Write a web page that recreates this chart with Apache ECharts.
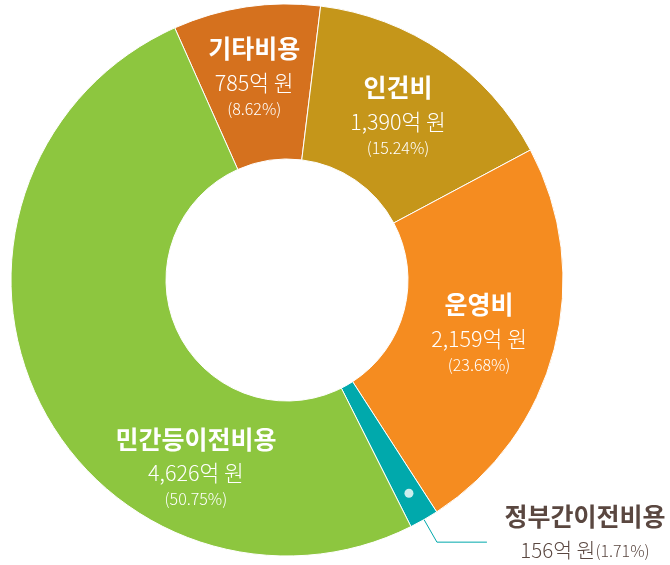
<!DOCTYPE html>
<html><head><meta charset="utf-8">
<script src="https://cdn.jsdelivr.net/npm/echarts@6/dist/echarts.min.js"></script>
<style>html,body{margin:0;padding:0;background:#fff}#c{width:670px;height:565px}</style>
</head><body><div id="c"></div>
<script>
const categories = ['기타비용', '인건비', '운영비', '정부간이전비용', '민간등이전비용'];
const values = [785, 1390, 2159, 156, 4626];
const percents = ['8.62%', '15.24%', '23.68%', '1.71%', '50.75%'];
const colors = ['#D5711E', '#C5961A', '#F58C20', '#00A9AC', '#8DC63F'];
const unit = '억 원';

const total = values.reduce((a, b) => a + b, 0);
const fmt = v => v.toLocaleString('en-US');
const FONT = '"Noto Sans CJK KR", "Noto Sans", sans-serif';
const CENTER = [287, 280];
const START = 114;
const SMALL = 3; // index of the outside-labelled slice

const mainData = categories.map((n, i) => ({
  name: n, value: values[i],
  itemStyle: { color: colors[i] },
  label: { show: i !== SMALL }
}));
const ghostData = categories.map((n, i) => ({
  name: n, value: values[i],
  label: { show: i === SMALL },
  labelLine: { show: i === SMALL }
}));
const dotAngle = values.slice(0, SMALL).reduce((a, b) => a + b, 0) + values[SMALL] / 2;

const chart = echarts.init(document.getElementById('c'), null, { renderer: 'canvas' });
chart.setOption({
  animation: false,
  backgroundColor: '#fff',
  polar: { center: CENTER, radius: 276 },
  angleAxis: { type: 'value', min: 0, max: total, startAngle: START, clockwise: true, show: false },
  radiusAxis: { type: 'value', min: 0, max: 1, show: false },
  series: [
    {
      type: 'pie',
      center: CENTER,
      radius: [121, 276],
      startAngle: START,
      clockwise: true,
      avoidLabelOverlap: false,
      silent: true,
      itemStyle: { borderColor: '#fff', borderWidth: 1 },
      label: {
        position: 'inside',
        color: '#fff',
        fontFamily: FONT,
        formatter: p => `{t|${p.name}}\n{v|${fmt(p.value)}${unit}}\n{p|(${percents[p.dataIndex]})}`,
        rich: {
          t: { fontSize: 25, fontWeight: 'bold', color: '#fff', lineHeight: 40, fontFamily: FONT, align: 'center' },
          v: { fontSize: 21.5, fontWeight: 300, color: '#fff', lineHeight: 28, fontFamily: FONT, align: 'center' },
          p: { fontSize: 16, fontWeight: 300, color: '#fff', lineHeight: 24, fontFamily: FONT, align: 'center' }
        }
      },
      labelLayout: params => {
        if (params.dataIndex === 4) return { dx: 91, dy: 99 };
        if (params.dataIndex === 0) return { dx: -3, dy: -6 };
        return { dx: -3, dy: 0 };
      },
      labelLine: { show: false },
      data: mainData
    },
    {
      type: 'pie',
      center: CENTER,
      radius: [0, 246],
      startAngle: START,
      clockwise: true,
      silent: true,
      avoidLabelOverlap: false,
      itemStyle: { color: 'rgba(0,0,0,0)', borderWidth: 0 },
      emphasis: { disabled: true },
      label: {
        position: 'outside',
        width: 164,
        overflow: 'none',
        distanceToLabelLine: 16,
        padding: [0, 0, 17, 0],
        color: '#5A4740',
        fontFamily: FONT,
        formatter: p => `{t|${p.name}}\n{v|${fmt(p.value)}${unit}}{p|(${percents[p.dataIndex]})}`,
        rich: {
          t: { fontSize: 25, fontWeight: 'bold', color: '#5A4740', lineHeight: 34, fontFamily: FONT, align: 'center' },
          v: { fontSize: 20.5, fontWeight: 300, color: '#5A4740', lineHeight: 34, fontFamily: FONT, align: 'center' },
          p: { fontSize: 16, fontWeight: 300, color: '#5A4740', lineHeight: 34, fontFamily: FONT, align: 'center' }
        }
      },
      labelLine: {
        length: 56,
        length2: 50,
        smooth: false,
        lineStyle: { color: colors[SMALL], width: 1 }
      },
      data: ghostData
    },
    {
      type: 'scatter',
      coordinateSystem: 'polar',
      silent: true,
      symbol: 'circle',
      symbolSize: 9,
      itemStyle: { color: '#fff' },
      z: 5,
      data: [[0.89, dotAngle]]
    }
  ]
});
</script>
</body></html>
